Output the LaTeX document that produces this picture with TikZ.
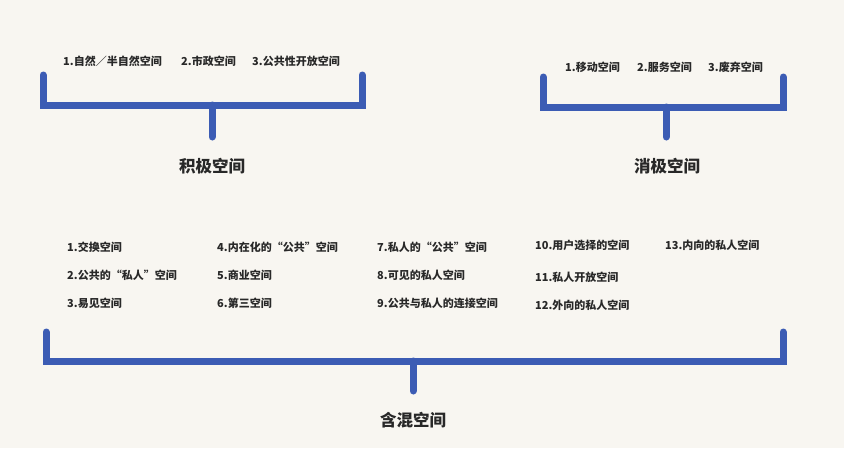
\documentclass[tikz,border=0pt]{standalone}
\usepackage{fontspec}
\setmainfont{Noto Sans CJK SC}
\usepackage{tikz}
\usetikzlibrary{positioning, calc}

\definecolor{bracketblue}{RGB}{60,92,180}
\definecolor{paper}{RGB}{248,246,241}
\definecolor{ink}{RGB}{40,40,40}

\tikzset{
	brace/.style={line width=7pt, bracketblue, line cap=round, line join=miter},
	item/.style={anchor=west, inner sep=0pt, font=\fontsize{11}{13}\selectfont\bfseries, text=ink},
	title/.style={inner sep=0pt, font=\fontsize{16.5}{19}\selectfont\bfseries, text=ink}
}

\begin{document}
\begin{tikzpicture}[x=1pt, y=-1pt]
				
				\fill [paper] (0,0) rectangle (844,448);
				\useasboundingbox (0,0) rectangle (844,448);
				
				% positive space
				\coordinate (pl) at (43,75);
				\coordinate (pr) at (362,75);
				\coordinate (pm) at (212,105);
				\coordinate (ps) at (212,137);
				\draw [brace] (pl) |- (pm) -| (pr);
				\draw [brace] (pm) -- (ps);
				\node [title] (pos) at (212,166) {积极空间};
				\node [item] (pos1) at (63,61) {1.自然／半自然空间};
				\node [item] (pos2) at (181,61) {2.市政空间};
				\node [item] (pos3) at (252,61) {3.公共性开放空间};
				
				% negative space
				\coordinate (nl) at (543,77);
				\coordinate (nr) at (783,77);
				\coordinate (nm) at (666,107);
				\coordinate (ns) at (666,137);
				\draw [brace] (nl) |- (nm) -| (nr);
				\draw [brace] (nm) -- (ns);
				\node [title] (neg) at (667,166) {消极空间};
				\node [item] (neg1) at (565,67) {1.移动空间};
				\node [item] (neg2) at (637,67) {2.服务空间};
				\node [item] (neg3) at (708,67) {3.废弃空间};
				
				% mixed space
				\coordinate (ml) at (46,332);
				\coordinate (mr) at (783,332);
				\coordinate (mm) at (413,361);
				\coordinate (ms) at (413,391);
				\draw [brace] (ml) |- (mm) -| (mr);
				\draw [brace] (mm) -- (ms);
				\node [title] (mix) at (413,420) {含混空间};
				
				\node [item] (mix1) at (67,247) {1.交换空间};
				\node [item] (mix2) at (67,275) {2.公共的“私人”空间};
				\node [item] (mix3) at (67,303) {3.易见空间};
				\node [item] (mix4) at (217,247) {4.内在化的“公共”空间};
				\node [item] (mix5) at (217,275) {5.商业空间};
				\node [item] (mix6) at (217,303) {6.第三空间};
				\node [item] (mix7) at (377,247) {7.私人的“公共”空间};
				\node [item] (mix8) at (377,275) {8.可见的私人空间};
				\node [item] (mix9) at (377,303) {9.公共与私人的连接空间};
				\node [item] (mix10) at (535,245) {10.用户选择的空间};
				\node [item] (mix11) at (535,277) {11.私人开放空间};
				\node [item] (mix12) at (535,305) {12.外向的私人空间};
				\node [item] (mix13) at (665,245) {13.内向的私人空间};
				
		\end{tikzpicture}
\end{document}
